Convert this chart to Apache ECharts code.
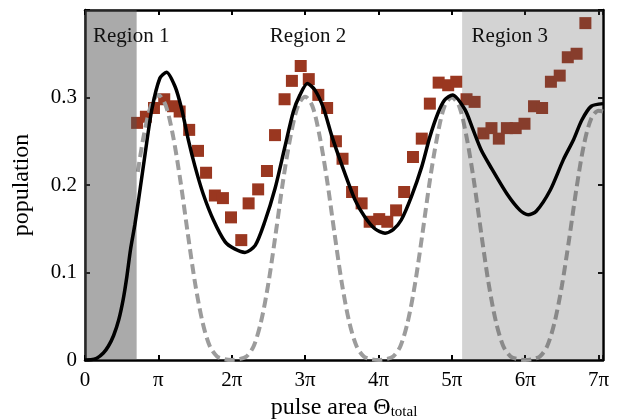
<!DOCTYPE html>
<html>
<head>
<meta charset="utf-8">
<script src="https://cdn.jsdelivr.net/npm/echarts@6/dist/echarts.min.js"></script>
<style>
  html, body { margin: 0; padding: 0; background: #fff; }
  #chart { width: 618px; height: 419px; }
</style>
</head>
<body>
<div id="chart"></div>
<script>
// pulse area in units of pi, population values

// measured data (squares)
var dataTheta = [0.71, 0.83, 0.94, 1.08, 1.20, 1.29, 1.42, 1.54, 1.65, 1.77, 1.88, 1.99,
    2.13, 2.23, 2.36, 2.48, 2.59, 2.72, 2.82, 2.94, 3.05, 3.18, 3.30, 3.42, 3.51, 3.64,
    3.77, 3.88, 4.01, 4.12, 4.24, 4.35, 4.47, 4.59, 4.70, 4.82, 4.95, 5.06, 5.20, 5.31,
    5.43, 5.54, 5.64, 5.75, 5.87, 5.99, 6.12, 6.23, 6.35, 6.47, 6.58, 6.70, 6.82];
var dataPop = [0.271, 0.278, 0.288, 0.298, 0.290, 0.284, 0.263, 0.239, 0.214, 0.188, 0.185, 0.163,
    0.137, 0.179, 0.195, 0.216, 0.257, 0.298, 0.319, 0.336, 0.321, 0.303, 0.288, 0.250, 0.230, 0.192,
    0.179, 0.158, 0.161, 0.158, 0.171, 0.192, 0.232, 0.253, 0.293, 0.317, 0.314, 0.318, 0.298, 0.295,
    0.259, 0.265, 0.253, 0.265, 0.265, 0.270, 0.290, 0.288, 0.318, 0.325, 0.346, 0.350, 0.385];

// black solid curve
var fitTheta = [0, 0.08, 0.16, 0.25, 0.32, 0.39, 0.46, 0.52, 0.57, 0.62, 0.68, 0.73, 0.82, 0.91,
    1.02, 1.11, 1.23, 1.32, 1.41, 1.50, 1.61, 1.75, 1.91, 2.04, 2.18, 2.32, 2.45, 2.59, 2.72,
    2.84, 2.93, 3.03, 3.13, 3.25, 3.36, 3.50, 3.68, 3.81, 3.95, 4.09, 4.20, 4.31, 4.45, 4.59,
    4.70, 4.81, 4.90, 5.01, 5.18, 5.29, 5.40, 5.52, 5.75, 5.93, 6.04, 6.15, 6.34, 6.52, 6.66,
    6.77, 6.90, 7.06];
var fitPop = [0, 0.0002, 0.002, 0.008, 0.016, 0.028, 0.046, 0.069, 0.095, 0.126, 0.155, 0.183, 0.236, 0.286,
    0.322, 0.329, 0.312, 0.286, 0.251, 0.221, 0.190, 0.160, 0.135, 0.127, 0.123, 0.131, 0.158, 0.196, 0.242,
    0.284, 0.303, 0.316, 0.309, 0.288, 0.257, 0.223, 0.183, 0.164, 0.150, 0.145, 0.149, 0.160, 0.187, 0.221,
    0.255, 0.282, 0.297, 0.303, 0.286, 0.263, 0.240, 0.222, 0.190, 0.171, 0.166, 0.170, 0.194, 0.229, 0.252,
    0.274, 0.290, 0.293];

// grey dashed curve
var modelTheta = [0.72, 0.8, 0.9, 1.0, 1.1, 1.2, 1.3, 1.4, 1.5, 1.6, 1.7, 1.8, 1.9, 2.0,
    2.1, 2.2, 2.3, 2.4, 2.5, 2.6, 2.7, 2.8, 2.9, 3.0, 3.1, 3.2, 3.3, 3.4, 3.5, 3.6, 3.7, 3.8, 3.9, 4.0,
    4.1, 4.2, 4.3, 4.4, 4.5, 4.6, 4.7, 4.8, 4.9, 5.0, 5.1, 5.2, 5.3, 5.4, 5.5, 5.6, 5.7, 5.8, 5.9, 6.0,
    6.1, 6.2, 6.3, 6.4, 6.5, 6.6, 6.7, 6.8, 6.9, 7.0, 7.06];
var modelPop = [0.215, 0.256, 0.291, 0.303, 0.291, 0.256, 0.205, 0.145, 0.088, 0.044, 0.016, 0.004, 0.001, 0,
    0.001, 0.004, 0.016, 0.044, 0.088, 0.145, 0.205, 0.255, 0.290, 0.301, 0.290, 0.255, 0.205, 0.145, 0.088, 0.044, 0.016, 0.004, 0.001, 0,
    0.001, 0.004, 0.016, 0.044, 0.088, 0.145, 0.205, 0.255, 0.290, 0.300, 0.290, 0.255, 0.205, 0.145, 0.088, 0.044, 0.016, 0.004, 0.001, 0,
    0.001, 0.004, 0.016, 0.043, 0.085, 0.139, 0.197, 0.246, 0.276, 0.285, 0.284];

// shaded regions and their labels
var regionStart = [0, 5.14];
var regionEnd = [0.704, 7.06];
var regionNames = ['Region 1', 'Region 2', 'Region 3'];
var regionLabelTheta = [0.63, 3.04, 5.79];
var regionLabelPop = [0.37, 0.37, 0.37];

var xTicks = [0, 1, 2, 3, 4, 5, 6, 7];

function pairs(xs, ys) {
    return xs.map(function (x, i) { return [x, ys[i]]; });
}

var font = 'Liberation Serif';
var chart = echarts.init(document.getElementById('chart'));

var frameLine = { show: true, onZero: false, lineStyle: { color: '#000', width: 2.5 } };
var tick = { show: true, inside: true, length: 5, lineStyle: { color: '#000', width: 2 } };

var option = {
    animation: false,
    backgroundColor: '#fff',
    grid: { left: 85, right: 15, top: 10, bottom: 59, containLabel: false, outerBoundsMode: 'none' },
    xAxis: [{
        type: 'value', min: 0, max: 7.06, interval: 1, position: 'bottom',
        axisLine: frameLine, axisTick: tick, splitLine: { show: false },
        axisLabel: {
            margin: 10, color: '#000', fontFamily: font, fontSize: 21,
            formatter: function (v) {
                var n = Math.round(v);
                if (Math.abs(v - n) > 1e-6 || xTicks.indexOf(n) < 0) return '';
                return n === 0 ? '0' : (n === 1 ? 'π' : n + 'π');
            }
        },
        name: 'pulse area Θ{s|total}', nameLocation: 'middle', nameGap: 36,
        nameTextStyle: {
            color: '#000', fontFamily: font, fontSize: 24, verticalAlign: 'top',
            rich: { s: { fontFamily: font, fontSize: 15, color: '#000', padding: [9, 0, 0, 0] } }
        }
    }, {
        type: 'value', min: 0, max: 7.06, interval: 1, position: 'top',
        axisLine: frameLine, axisTick: tick, splitLine: { show: false },
        axisLabel: { show: false }
    }],
    yAxis: [{
        type: 'value', min: 0, max: 0.4, interval: 0.1, position: 'left',
        axisLine: frameLine, axisTick: tick, splitLine: { show: false },
        axisLabel: {
            margin: 8, color: '#000', fontFamily: font, fontSize: 21,
            formatter: function (v) {
                if (v > 0.35) return '';
                return v === 0 ? '0' : v.toFixed(1);
            }
        },
        name: 'population', nameLocation: 'middle', nameGap: 51, nameRotate: 90,
        nameTextStyle: { color: '#000', fontFamily: font, fontSize: 24 }
    }, {
        type: 'value', min: 0, max: 0.4, interval: 0.1, position: 'right',
        axisLine: frameLine, axisTick: tick, splitLine: { show: false },
        axisLabel: { show: false }
    }],
    series: [{
        name: 'data',
        type: 'scatter',
        data: pairs(dataTheta, dataPop),
        symbol: 'rect',
        symbolSize: 12,
        itemStyle: { color: '#9a3720', opacity: 1 },
        z: 2
    }, {
        name: 'model',
        type: 'line',
        data: pairs(modelTheta, modelPop),
        showSymbol: false,
        smooth: 0.3,
        lineStyle: { color: '#9c9c9c', width: 4, type: [10, 5] },
        z: 3
    }, {
        name: 'fit',
        type: 'line',
        data: pairs(fitTheta, fitPop),
        showSymbol: false,
        smooth: 0.25,
        lineStyle: { color: '#000', width: 3.5 },
        z: 5,
        // shading sits above squares and dashed curve, below the black curve
        markArea: {
            silent: true,
            z: 4,
            data: [
                [{ xAxis: regionStart[0], itemStyle: { color: 'rgba(80,80,80,0.486)' } }, { xAxis: regionEnd[0] }],
                [{ xAxis: regionStart[1], itemStyle: { color: 'rgba(80,80,80,0.25)' } }, { xAxis: regionEnd[1] }]
            ]
        }
    }, {
        name: 'regions',
        type: 'scatter',
        symbolSize: 0,
        itemStyle: { opacity: 1 },
        data: regionNames.map(function (n, i) {
            return { name: n, value: [regionLabelTheta[i], regionLabelPop[i]] };
        }),
        label: {
            show: true, position: 'inside', formatter: '{b}',
            color: '#111', fontFamily: font, fontSize: 21
        },
        z: 12
    }]
};

chart.setOption(option);
</script>
</body>
</html>
